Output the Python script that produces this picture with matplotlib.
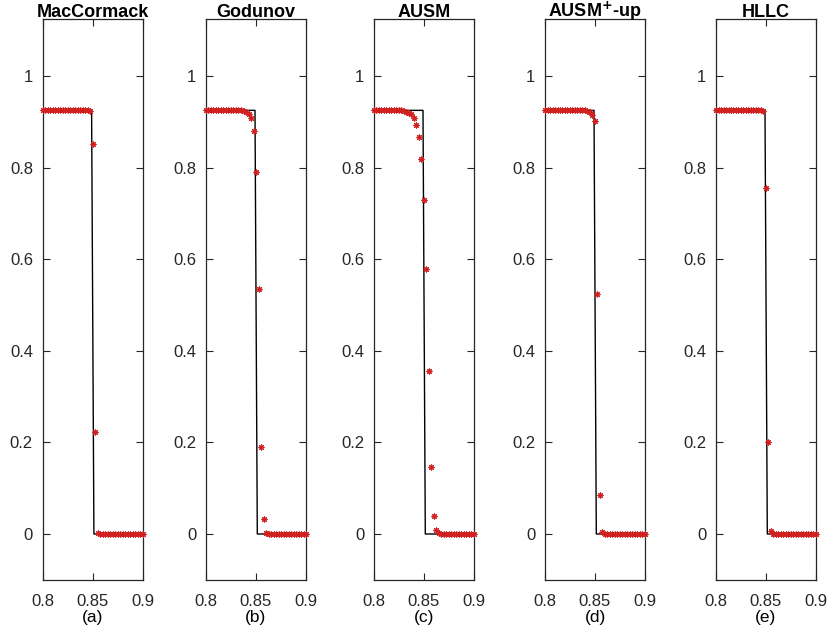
import matplotlib

matplotlib.use("Agg")
import matplotlib.pyplot as plt
import numpy as np

plt.rcParams["font.family"] = ["Liberation Sans Narrow", "Liberation Sans", "DejaVu Sans"]
plt.rcParams["mathtext.fontset"] = "custom"
plt.rcParams["mathtext.bf"] = "Liberation Sans Narrow:bold"
plt.rcParams["mathtext.rm"] = "Liberation Sans Narrow"

# maillage (pas 0.0025) sur la fenêtre affichée
x_cells = np.linspace(0.8, 0.9, 41)

# solution exacte : plateau puis choc
x_exact = [0.8, 0.849, 0.8513, 0.9]
rho_exact = [0.926, 0.926, 0.0, 0.0]

P = 0.926
maccormack = [P] * 19 + [0.925, 0.852, 0.224, 0.002] + [0.0] * 18
godunov = [P] * 15 + [0.925, 0.923, 0.919, 0.909, 0.881, 0.791, 0.536, 0.190,
                      0.033, 0.003] + [0.0] * 16
ausm = [P] * 12 + [0.925, 0.923, 0.921, 0.917, 0.910, 0.895, 0.868, 0.819, 0.730,
                   0.579, 0.356, 0.146, 0.039, 0.008, 0.002] + [0.0] * 14
ausm_up = [P] * 17 + [0.925, 0.922, 0.916, 0.903, 0.525, 0.085, 0.005] + [0.0] * 17
hllc = [P] * 19 + [0.924, 0.756, 0.200, 0.007] + [0.0] * 18

titles = ["MacCormack", "Godunov", "AUSM", r"AUSM$^{\mathbf{+}}$-up", "HLLC"]
tags = ["(a)", "(b)", "(c)", "(d)", "(e)"]
series = [maccormack, godunov, ausm, ausm_up, hllc]

W, H = 829, 633
lefts = [42.6, 206, 374, 545, 716]   # bords gauches des cadres (px)
top_px, bot_px = 19, 580
y0_px, y1_px = 534, 76.5             # position des graduations 0 et 1

fig = plt.figure(figsize=(W / 100, H / 100), dpi=100)
fig.patch.set_facecolor("white")

scale = y0_px - y1_px
for left, title, tag, vals in zip(lefts, titles, tags, series):
    ax = fig.add_axes([left / W, 1 - bot_px / H, 100 / W, (bot_px - top_px) / H])
    ax.plot(x_exact, rho_exact, color="black", lw=1.0, zorder=2)
    ax.plot(x_cells, vals, ls="none", marker=(8, 2, 0), ms=4.2, mew=0.8,
            color="#d02020", zorder=3, clip_on=False)
    ax.set_xlim(0.8, 0.9)
    ax.set_ylim(-(bot_px - y0_px) / scale, (y0_px - top_px) / scale)
    ax.set_xticks([0.8, 0.85, 0.9])
    ax.set_xticklabels(["0.8", "0.85", "0.9"])
    ax.set_yticks([0, 0.2, 0.4, 0.6, 0.8, 1.0])
    ax.set_yticklabels(["0", "0.2", "0.4", "0.6", "0.8", "1"])
    ax.tick_params(direction="in", top=True, right=True, length=5, width=0.8,
                   labelsize=12, colors="#262626", pad=7)
    ax.tick_params(axis="x", pad=10)
    for s in ax.spines.values():
        s.set_color("#262626")
        s.set_linewidth(0.9)
    ax.set_title(title, fontsize=13, fontweight="bold", pad=1.5)
    ax.set_xlabel(tag, fontsize=12.5, labelpad=1)

fig.savefig("out.png", dpi=100)
plt.close(fig)
